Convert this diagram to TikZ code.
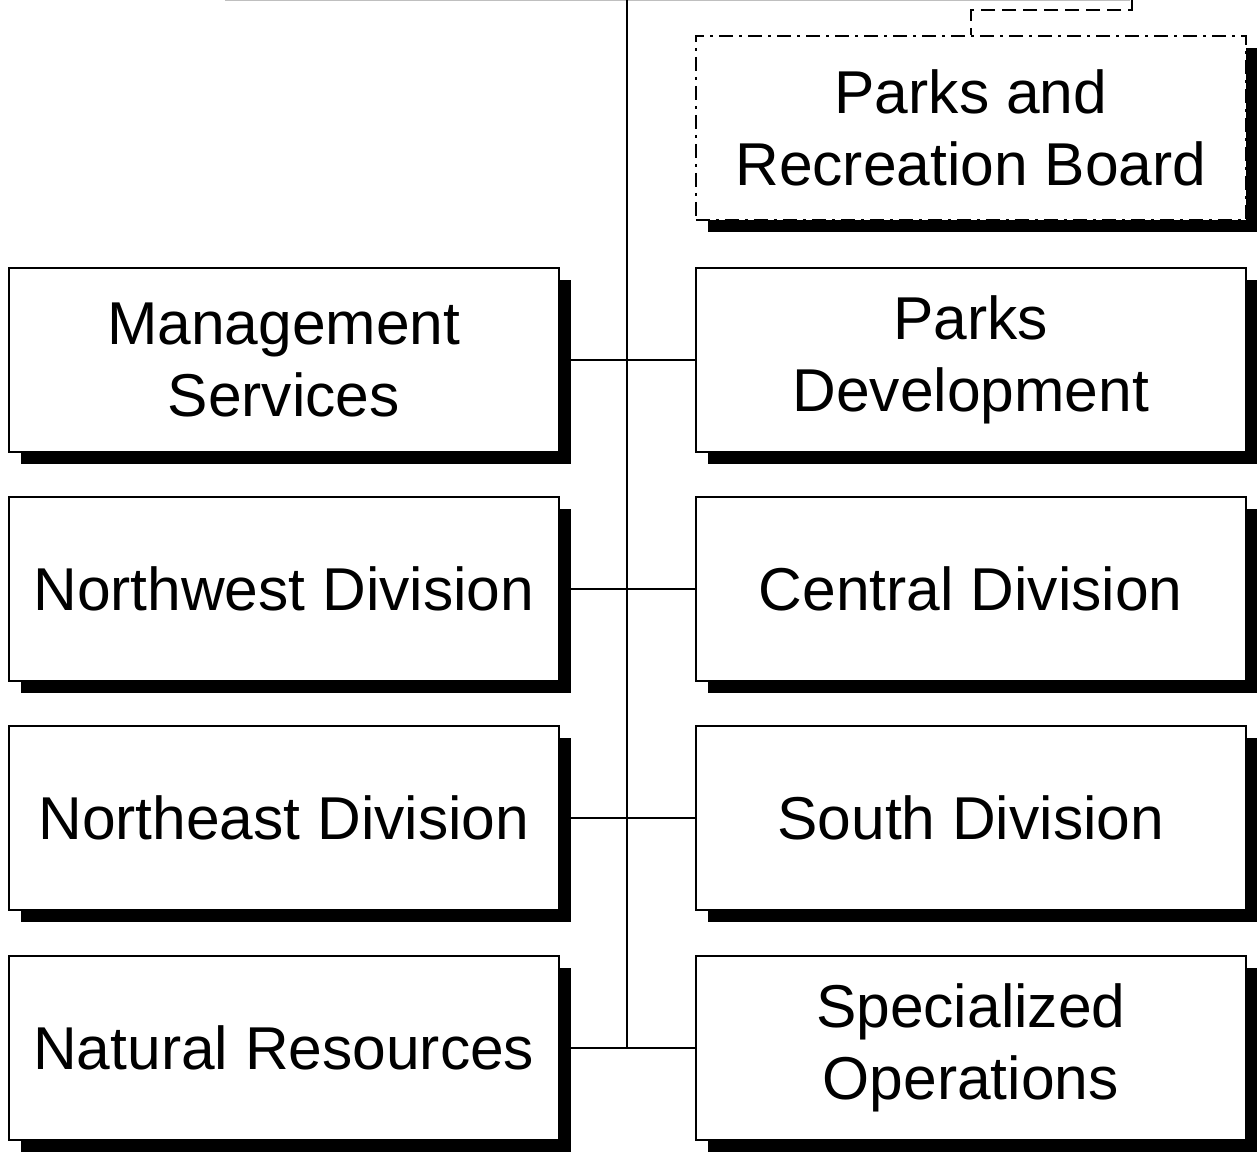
\documentclass[tikz,border=0pt]{standalone}
\usepackage{fontspec}
\setmainfont{Liberation Sans}
\usetikzlibrary{shadows}
\begin{document}
\begin{tikzpicture}[x=1pt,y=-1pt,
  box/.style={draw=black, line width=1.6pt, fill=white,
    minimum width=550pt, minimum height=184pt, inner sep=0pt,
    align=center, anchor=north west,
    font=\fontsize{60.5}{72}\selectfont,
    drop shadow={shadow xshift=12pt, shadow yshift=-12pt, fill=black, opacity=1}},
  boardbox/.style={box, dash pattern=on 14pt off 6pt on 3pt off 6pt},
  link/.style={draw=black, line width=1.6pt},
  dlink/.style={link, dash pattern=on 14pt off 7pt}]
\useasboundingbox (0,0) rectangle (1257,1151);
\draw[black!25, line width=0.8pt] (225,0.5) -- (1130,0.5);

\node[boardbox] (prb) at (695,35) {Parks and\\Recreation Board};

\node[box] (ms) at (8,267) {Management\\Services};
\node[box] (pd) at (695,267) {Parks\\Development};
\node[box] (nw) at (8,496) {Northwest Division};
\node[box] (cd) at (695,496) {Central Division};
\node[box] (ne) at (8,725) {Northeast Division};
\node[box] (sd) at (695,725) {South Division};
\node[box] (nr) at (8,955) {Natural Resources};
\node[box] (so) at (695,955) {Specialized\\Operations};

\coordinate (trunk) at (627,0);
\coordinate (btop) at (1132,0);

\draw[link] (trunk) -- (trunk |- nr.east);
\draw[link] (ms.east) -- (pd.west);
\draw[link] (nw.east) -- (cd.west);
\draw[link] (ne.east) -- (sd.west);
\draw[link] (nr.east) -- (so.west);
\draw[dlink] (btop) -- ++(0,10) -| (prb.north);
\end{tikzpicture}
\end{document}
